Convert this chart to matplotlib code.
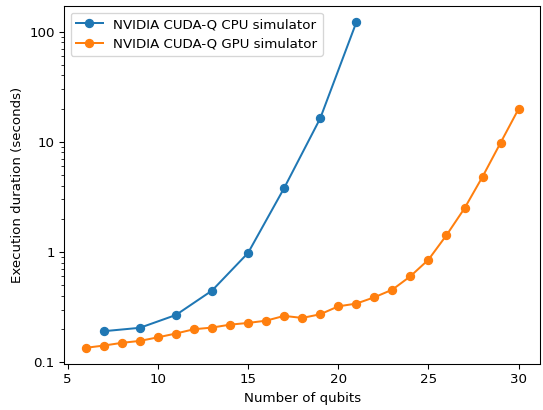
import numpy as np
import matplotlib
matplotlib.use('Agg')
import matplotlib.pyplot as plt
from matplotlib.ticker import FuncFormatter, NullFormatter

cpu_qubits = [7, 9, 11, 13, 15, 17, 19, 21]
cpu_time = [0.191, 0.205, 0.268, 0.446, 0.98, 3.8, 16.3, 121]

gpu_qubits = list(range(6, 31))
gpu_time = [0.135, 0.1415, 0.1497, 0.156, 0.168, 0.182, 0.199, 0.206, 0.219,
            0.227, 0.238, 0.263, 0.252, 0.272, 0.321, 0.340, 0.388, 0.455,
            0.602, 0.851, 1.42, 2.49, 4.82, 9.8, 19.9]

# reference looks like a default figure shrunk a bit, so draw at 96 dpi
dpi = 96
fig = plt.figure(figsize=(543 / dpi, 410 / dpi), dpi=dpi)
ax = fig.add_axes([0.118, 0.112, 0.877, 0.873])

ax.plot(cpu_qubits, cpu_time, marker='o', label='NVIDIA CUDA-Q CPU simulator')
ax.plot(gpu_qubits, gpu_time, marker='o', label='NVIDIA CUDA-Q GPU simulator')
ax.set_yscale('log')
ax.yaxis.set_major_formatter(FuncFormatter(lambda v, p: '{:g}'.format(v)))
ax.yaxis.set_minor_formatter(NullFormatter())
ax.set_xlabel('Number of qubits')
ax.set_ylabel('Execution duration (seconds)')
ax.legend(loc='upper left')

fig.savefig('out.png', dpi=dpi)
